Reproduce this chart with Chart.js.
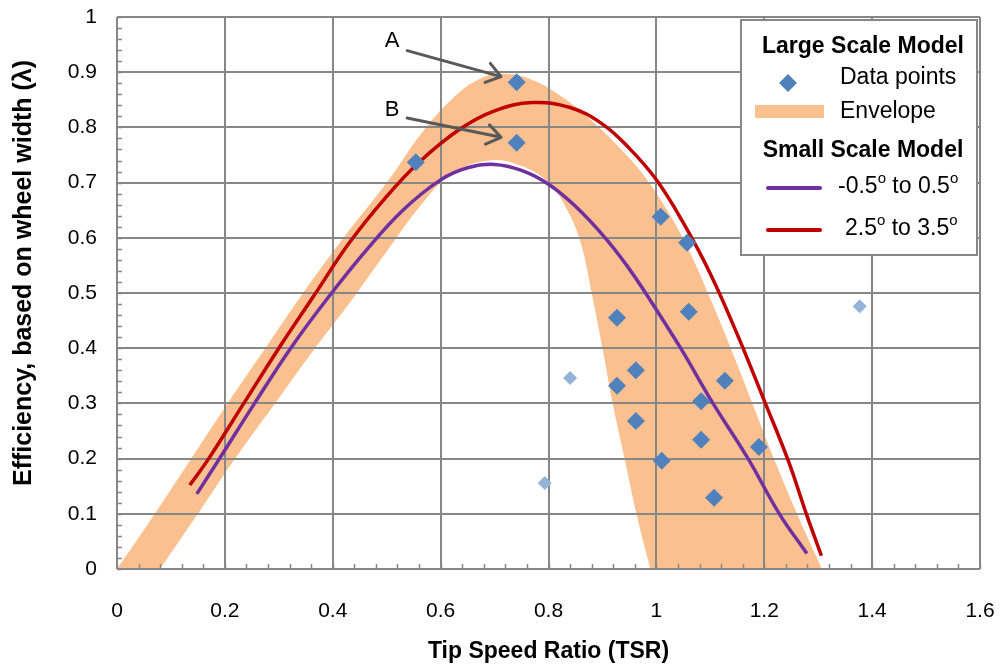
<!DOCTYPE html>
<html>
<head>
<meta charset="utf-8">
<title>Efficiency vs Tip Speed Ratio</title>
<script src="https://cdn.jsdelivr.net/npm/chart.js@4.4.0/dist/chart.umd.min.js"></script>
<style>
  html, body { margin: 0; padding: 0; background: #fff; }
</style>
</head>
<body>
<canvas id="myChart" width="1005" height="669"></canvas>
<script>
// large scale model, data points
var dataTSR = [0.741, 0.741, 0.554, 1.008, 1.057, 0.927, 1.060, 0.962, 0.927, 1.127, 1.083, 0.962, 1.083, 1.190, 1.010, 1.107];
var dataEff = [0.882, 0.772, 0.737, 0.638, 0.591, 0.455, 0.466, 0.360, 0.332, 0.341, 0.304, 0.268, 0.234, 0.221, 0.196, 0.129];
// lighter points
var extraTSR = [0.840, 0.793, 1.377];
var extraEff = [0.346, 0.156, 0.476];

// envelope, outer edge
var envOutTSR = [0, 0.07, 0.205, 0.275, 0.345, 0.42, 0.50, 0.565, 0.625, 0.673, 0.715, 0.77, 0.83, 0.88, 0.93, 0.975, 1.02, 1.06, 1.10, 1.14, 1.18, 1.22, 1.263, 1.307];
var envOutEff = [0, 0.10, 0.30, 0.40, 0.50, 0.60, 0.70, 0.79, 0.855, 0.888, 0.897, 0.886, 0.852, 0.812, 0.765, 0.715, 0.65, 0.578, 0.49, 0.395, 0.295, 0.195, 0.095, 0];
// envelope, inner edge (white inside)
var envInTSR = [0.08, 0.15, 0.219, 0.293, 0.367, 0.435, 0.50, 0.56, 0.62, 0.69, 0.75, 0.80, 0.835, 0.86, 0.88, 0.90, 0.919, 0.941, 0.963, 0.989];
var envInEff = [0, 0.10, 0.20, 0.30, 0.40, 0.487, 0.575, 0.655, 0.715, 0.74, 0.73, 0.70, 0.65, 0.59, 0.50, 0.40, 0.30, 0.20, 0.10, 0];

// small scale model, -0.5 to 0.5 deg
var lowTSR = [0.148, 0.19, 0.255, 0.322, 0.39, 0.46, 0.53, 0.60, 0.65, 0.70, 0.75, 0.80, 0.85, 0.905, 0.945, 0.98, 1.045, 1.105, 1.17, 1.228, 1.279];
var lowEff = [0.136, 0.20, 0.30, 0.40, 0.49, 0.575, 0.65, 0.705, 0.727, 0.733, 0.722, 0.697, 0.657, 0.60, 0.55, 0.50, 0.40, 0.30, 0.20, 0.10, 0.028];
// small scale model, 2.5 to 3.5 deg
var highTSR = [0.135, 0.17, 0.235, 0.30, 0.365, 0.43, 0.50, 0.56, 0.636, 0.70, 0.77, 0.84, 0.90, 0.95, 1.0, 1.05, 1.10, 1.15, 1.20, 1.245, 1.278, 1.306];
var highEff = [0.152, 0.20, 0.30, 0.40, 0.495, 0.59, 0.675, 0.737, 0.797, 0.83, 0.845, 0.836, 0.806, 0.762, 0.705, 0.627, 0.535, 0.425, 0.305, 0.195, 0.10, 0.024];

// tick labels
var xTickLabels = ['0', '0.2', '0.4', '0.6', '0.8', '1', '1.2', '1.4', '1.6'];
var yTickLabels = ['0', '0.1', '0.2', '0.3', '0.4', '0.5', '0.6', '0.7', '0.8', '0.9', '1'];
var yTitle = 'Efficiency, based on wheel width (\u03bb)';

// callouts A and B (data units)
var noteLabels = ['A', 'B'];
var noteTSR = [0.510, 0.510];
var noteEff = [0.957, 0.831];
var arrowFromTSR = [0.538, 0.538];
var arrowFromEff = [0.939, 0.817];
var arrowToTSR = [0.712, 0.712];
var arrowToEff = [0.892, 0.782];

var FONT = "'Liberation Sans', Arial, sans-serif";

function pts(xs, ys) {
    return xs.map(function(x, i) { return {x: x, y: ys[i]}; });
}

// grid on top of the envelope but under the lines and points
var gridPlugin = {
    id: 'gridOverBand',
    beforeDatasetsDraw: function(chart) {
        var ctx = chart.ctx, a = chart.chartArea;
        var xs = chart.scales.x, ys = chart.scales.y;
        ctx.save();
        ctx.strokeStyle = '#878787';
        ctx.lineWidth = 2;
        ctx.beginPath();
        xs.ticks.forEach(function(t) {
            var p = Math.round(xs.getPixelForValue(t.value));
            ctx.moveTo(p, a.top); ctx.lineTo(p, a.bottom);
        });
        ys.ticks.forEach(function(t) {
            var p = Math.round(ys.getPixelForValue(t.value));
            ctx.moveTo(a.left, p); ctx.lineTo(a.right, p);
        });
        ctx.stroke();
        // minor tick marks
        ctx.lineWidth = 1.5;
        ctx.beginPath();
        for (var i = 0; i <= 50; i++) {
            var py = Math.round(ys.getPixelForValue(i * 0.02)) + 0.5;
            ctx.moveTo(a.left, py); ctx.lineTo(a.left + 5, py);
        }
        for (var j = 0; j <= 40; j++) {
            var px = Math.round(xs.getPixelForValue(j * 0.04)) + 0.5;
            ctx.moveTo(px, a.bottom); ctx.lineTo(px, a.bottom - 5);
        }
        ctx.stroke();
        ctx.restore();
    },
    afterDraw: function(chart) {
        // y axis title, sits a little above the middle like the original
        var ctx = chart.ctx, a = chart.chartArea;
        ctx.save();
        ctx.translate(24, (a.top + a.bottom) / 2 - 20);
        ctx.rotate(-Math.PI / 2);
        ctx.fillStyle = '#000';
        ctx.font = 'bold 25px ' + FONT;
        ctx.textAlign = 'center';
        ctx.textBaseline = 'middle';
        ctx.fillText(yTitle, 0, 0);
        ctx.restore();
    }
};

function arrow(ctx, x1, y1, x2, y2) {
    var ang = Math.atan2(y2 - y1, x2 - x1), len = 17, spread = 0.62;
    ctx.beginPath();
    ctx.moveTo(x1, y1); ctx.lineTo(x2, y2);
    ctx.moveTo(x2 - len * Math.cos(ang - spread), y2 - len * Math.sin(ang - spread));
    ctx.lineTo(x2, y2);
    ctx.lineTo(x2 - len * Math.cos(ang + spread), y2 - len * Math.sin(ang + spread));
    ctx.stroke();
}

var notePlugin = {
    id: 'callouts',
    afterDatasetsDraw: function(chart) {
        var ctx = chart.ctx, xs = chart.scales.x, ys = chart.scales.y;
        ctx.save();
        ctx.strokeStyle = '#595959';
        ctx.lineWidth = 3;
        ctx.lineCap = 'round';
        ctx.lineJoin = 'round';
        ctx.fillStyle = '#000';
        ctx.font = '22px ' + FONT;
        ctx.textAlign = 'center';
        ctx.textBaseline = 'middle';
        noteLabels.forEach(function(lab, i) {
            ctx.fillText(lab, xs.getPixelForValue(noteTSR[i]), ys.getPixelForValue(noteEff[i]));
            arrow(ctx, xs.getPixelForValue(arrowFromTSR[i]), ys.getPixelForValue(arrowFromEff[i]),
                  xs.getPixelForValue(arrowToTSR[i]), ys.getPixelForValue(arrowToEff[i]));
        });
        ctx.restore();
    }
};

// text with superscript "o" pieces: [text, isSup]
function drawParts(ctx, parts, x, y) {
    parts.forEach(function(p) {
        if (p[1]) {
            ctx.font = '15px ' + FONT;
            ctx.fillText(p[0], x, y - 8);
        } else {
            ctx.font = '23px ' + FONT;
            ctx.fillText(p[0], x, y);
        }
        x += ctx.measureText(p[0]).width;
    });
}

var legendPlugin = {
    id: 'boxLegend',
    afterDraw: function(chart) {
        var ctx = chart.ctx, a = chart.chartArea;
        var W = 236, H = 235;
        var L = a.right - W - 3, T = a.top + 3;
        ctx.save();
        ctx.fillStyle = '#fff';
        ctx.fillRect(L, T, W, H);
        ctx.strokeStyle = '#878787';
        ctx.lineWidth = 2;
        ctx.strokeRect(L, T, W, H);

        ctx.fillStyle = '#000';
        ctx.textBaseline = 'middle';
        ctx.textAlign = 'center';
        ctx.font = 'bold 23px ' + FONT;
        ctx.fillText('Large Scale Model', L + 122, T + 27);
        ctx.fillText('Small Scale Model', L + 122, T + 131);

        // diamond
        ctx.fillStyle = '#4F81BD';
        ctx.beginPath();
        var cx = L + 47, cy = T + 63, r = 9;
        ctx.moveTo(cx, cy - r); ctx.lineTo(cx + r, cy); ctx.lineTo(cx, cy + r); ctx.lineTo(cx - r, cy);
        ctx.closePath();
        ctx.fill();
        // envelope swatch
        ctx.fillStyle = '#FAC090';
        ctx.fillRect(L + 14, T + 85, 69, 13);

        ctx.lineCap = 'round';
        ctx.lineWidth = 4;
        ctx.strokeStyle = '#7030A0';
        ctx.beginPath(); ctx.moveTo(L + 27, T + 168); ctx.lineTo(L + 79, T + 168); ctx.stroke();
        ctx.strokeStyle = '#C00000';
        ctx.beginPath(); ctx.moveTo(L + 27, T + 210); ctx.lineTo(L + 79, T + 210); ctx.stroke();

        ctx.fillStyle = '#000';
        ctx.textAlign = 'left';
        ctx.font = '23px ' + FONT;
        ctx.fillText('Data points', L + 99, T + 58);
        ctx.fillText('Envelope', L + 99, T + 92);
        drawParts(ctx, [['-0.5', false], ['o', true], [' to 0.5', false], ['o', true]], L + 97, T + 167);
        drawParts(ctx, [['2.5', false], ['o', true], [' to 3.5', false], ['o', true]], L + 104, T + 209);
        ctx.restore();
    }
};

var ctx = document.getElementById('myChart').getContext('2d');
var chart = new Chart(ctx, {
    type: 'scatter',
    data: {
        datasets: [
            {label: 'Data points', data: pts(dataTSR, dataEff), pointStyle: 'rectRot', pointRadius: 9,
             backgroundColor: '#4F81BD', borderColor: '#4F81BD', borderWidth: 0, showLine: false},
            {label: 'Other points', data: pts(extraTSR, extraEff), pointStyle: 'rectRot', pointRadius: 7,
             backgroundColor: '#95B3D7', borderColor: '#95B3D7', borderWidth: 0, showLine: false},
            {label: '-0.5 to 0.5', data: pts(lowTSR, lowEff), showLine: true, borderColor: '#7030A0',
             borderWidth: 3.5, pointRadius: 0, tension: 0.4, fill: false},
            {label: '2.5 to 3.5', data: pts(highTSR, highEff), showLine: true, borderColor: '#C00000',
             borderWidth: 3.5, pointRadius: 0, tension: 0.4, fill: false},
            // inner edge: white fill to the axis, drawn after the orange fill
            {label: 'Envelope inner', data: pts(envInTSR, envInEff), showLine: true, borderWidth: 0,
             borderColor: 'rgba(0,0,0,0)', backgroundColor: '#ffffff', pointRadius: 0, tension: 0.4, fill: 'origin'},
            {label: 'Envelope', data: pts(envOutTSR, envOutEff), showLine: true, borderWidth: 0,
             borderColor: 'rgba(0,0,0,0)', backgroundColor: '#FAC090', pointRadius: 0, tension: 0.4, fill: 'origin'}
        ]
    },
    options: {
        responsive: false,
        animation: false,
        devicePixelRatio: 1,
        layout: {padding: {top: 17, right: 25, left: 0, bottom: 0}},
        plugins: {
            legend: {display: false},
            tooltip: {enabled: false},
            filler: {drawTime: 'beforeDatasetsDraw'}
        },
        scales: {
            x: {
                type: 'linear', min: 0, max: 1.6,
                grid: {display: false},
                border: {display: false},
                ticks: {stepSize: 0.2, color: '#000', padding: 22, maxRotation: 0,
                        font: {family: FONT, size: 21},
                        callback: function(v, i) { return xTickLabels[i]; }},
                title: {display: true, text: 'Tip Speed Ratio (TSR)', color: '#000',
                        font: {family: FONT, size: 23, weight: 'bold'}, padding: {top: 0, bottom: 4}},
                afterFit: function(s) {
                    s.height = 100;
                    s.paddingLeft = 0; s.paddingRight = 0;
                }
            },
            y: {
                min: 0, max: 1,
                grid: {display: false},
                border: {display: false},
                ticks: {stepSize: 0.1, color: '#000', padding: 12,
                        font: {family: FONT, size: 21},
                        callback: function(v, i) { return yTickLabels[i]; }},
                title: {display: false},
                afterFit: function(s) {
                    s.width = 117;
                    s.paddingTop = 0; s.paddingBottom = 0;
                }
            }
        }
    },
    plugins: [gridPlugin, notePlugin, legendPlugin]
});
</script>
</body>
</html>
